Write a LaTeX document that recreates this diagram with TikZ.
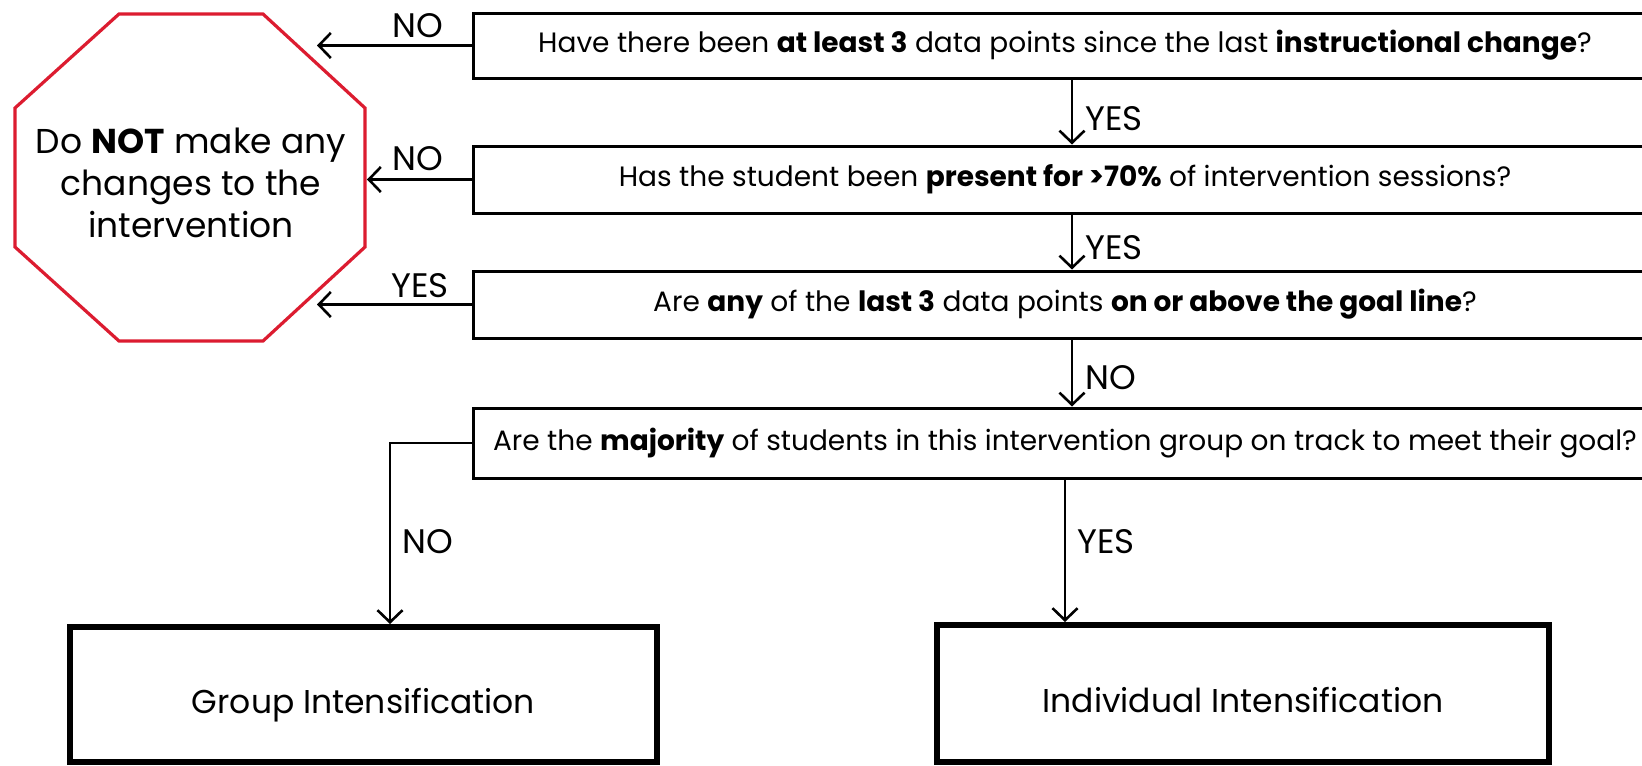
\documentclass[tikz,border=0pt]{standalone}
\usepackage{fontspec}
\setmainfont{Poppins}
\usetikzlibrary{arrows.meta}
\definecolor{stopred}{RGB}{220,28,48}
\begin{document}
\begin{tikzpicture}[x=1pt,y=-1pt,
 qbox/.style={draw=black, line width=3pt, minimum width=1184pt, inner sep=0pt, font=\fontsize{28}{32}\selectfont},
 outbox/.style={draw=black, line width=6pt, inner sep=0pt, text height=38pt, text depth=0pt, font=\fontsize{33}{40}\selectfont},
 arr/.style={line width=2.6pt, -{Straight Barb[length=12pt,width=25pt,line width=2.6pt]}},
 lab/.style={font=\fontsize{34}{38}\selectfont, inner sep=0pt, anchor=base},
]
\fill[white] (0,0) rectangle (1642,766);
\clip (0,0) rectangle (1642,766);
% octagon
\draw[stopred, line width=3.2pt, line join=miter] (119,14) -- (263,14) -- (365,108) -- (365,247) -- (263,341) -- (119,341) -- (15,247) -- (15,108) -- cycle;
\node[align=center, inner sep=0pt, font=\fontsize{34.5}{42}\selectfont] (stop) at (191,183) {Do \textbf{NOT} make any\\changes to the\\intervention};
\coordinate (octE) at (367,178);
\coordinate (s1) at (317,45.5);
\coordinate (s3) at (317,304.5);
% question boxes
\node[qbox, minimum height=65pt] (b1) at (1065,45.5) {Have there been \textbf{at least 3} data points since the last \textbf{instructional change}?};
\node[qbox, minimum height=67pt] (b2) at (1065,179.5) {Has the student been \textbf{present for >70\%} of intervention sessions?};
\node[qbox, minimum height=67pt] (b3) at (1065,304.5) {Are \textbf{any} of the \textbf{last 3} data points \textbf{on or above the goal line}?};
\node[qbox, minimum height=70pt] (b4) at (1065,443) {Are the \textbf{majority} of students in this intervention group on track to meet their goal?};
% outcome boxes
\node[outbox, minimum width=587pt, minimum height=135pt] (g) at (363.5,694.5) {Group Intensification};
\node[outbox, minimum width=612pt, minimum height=137pt] (ind) at (1243,693.5) {Individual Intensification};
% left arrows
\draw[arr] (b1.west) -- (s1);
\draw[arr] (b2.west) -- (b2.west -| octE);
\draw[arr] (b3.west) -- (s3);
\node[lab] (l1) at (418,37) {NO};
\node[lab] (l2) at (418,170) {NO};
\node[lab] (l3) at (420,297) {YES};
% vertical arrows
\draw[arr] ([xshift=7pt]b1.south) -- ([xshift=7pt]b2.north);
\draw[arr] ([xshift=7pt]b2.south) -- ([xshift=7pt]b3.north);
\draw[arr] ([xshift=7pt]b3.south) -- ([xshift=7pt]b4.north);
\node[lab, anchor=base west] (l4) at (1085,130) {YES};
\node[lab, anchor=base west] (l5) at (1085,259) {YES};
\node[lab, anchor=base west] (l6) at (1085,389) {NO};
% bottom branches
\draw[arr] (b4.west) -| ([xshift=26.5pt]g.north);
\draw[arr] (b4.south) -- (b4.south |- ind.north);
\node[lab, anchor=base west] (l7) at (402,553) {NO};
\node[lab, anchor=base west] (l8) at (1077,553) {YES};
\end{tikzpicture}
\end{document}
